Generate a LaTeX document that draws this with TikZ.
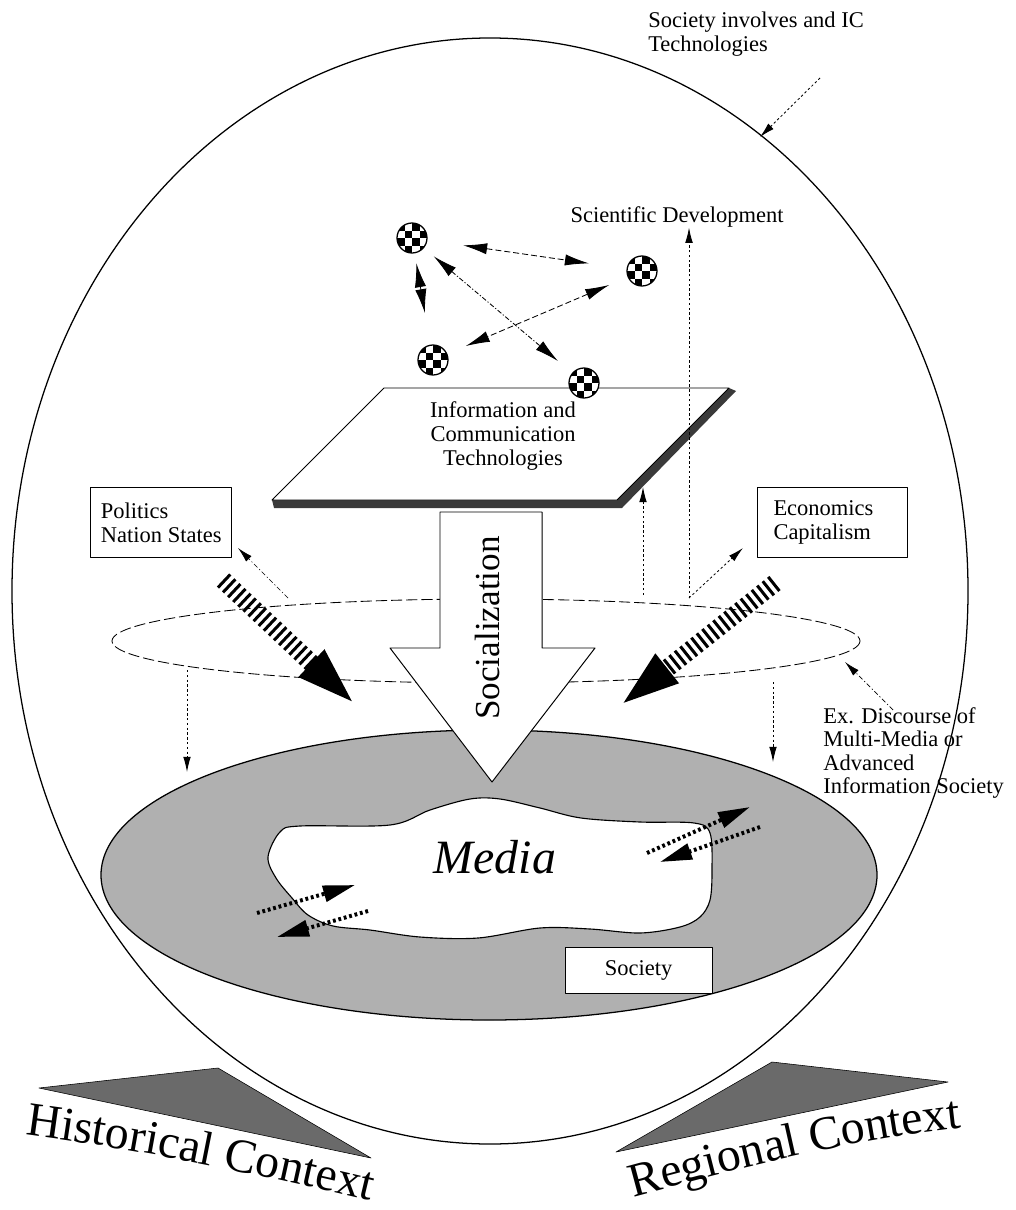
\documentclass[tikz,border=0pt]{standalone}
\usepackage{fontspec}
\setmainfont{Liberation Serif}
\usetikzlibrary{arrows.meta,decorations.text}
\definecolor{socfill}{HTML}{B0B0B0}
\definecolor{trifill}{HTML}{6A6A6A}
\definecolor{slabfill}{HTML}{3A3A3A}
\begin{document}
\begin{tikzpicture}[x=0.25mm,y=-0.25mm,line join=round,
  lbl/.style={font=\fontsize{16}{16.8}\selectfont, inner sep=0pt},
  box/.style={draw, fill=white, line width=0.7pt, align=left, font=\fontsize{16}{16.8}\selectfont, inner xsep=4mm, minimum height=17.5mm},
  ball/.style={circle, draw, line width=0.9pt, minimum size=7.5mm, inner sep=0pt, fill=white,
    path picture={\foreach \i/\j in {0/1,0/3,1/0,1/2,2/1,2/3,3/0,3/2}
      \fill[black] ([xshift=\i*1.875mm-3.75mm, yshift=\j*1.875mm-3.75mm]path picture bounding box.center) rectangle ++(1.875mm,1.875mm);}},
  bhead/.tip={Latex[length=6mm,width=2.8mm]},
  barr/.style={line width=0.6pt, bhead-bhead},
  dotarr/.style={line width=0.6pt, dash pattern=on 0.6mm off 0.6mm, -{Latex[length=3.8mm,width=1.9mm]}},
  dasharr/.style={line width=0.5pt, dash pattern=on 1.2mm off 0.6mm on 0.3mm off 0.6mm, -{Latex[length=3.8mm,width=1.9mm]}},
  stripe/.style={line width=4.5mm, dash pattern=on 0.75mm off 1mm, -{Triangle[length=16mm,width=8mm]}},
  marr/.style={line width=1mm, dash pattern=on 0.7mm off 0.7mm, -{Triangle[length=8mm,width=4mm]}}
]
\useasboundingbox (0,0) rectangle (1016,1210);

% big ellipse
\draw[line width=0.9pt] (490,591) ellipse [x radius=478, y radius=553];

% society ellipse and media blob
\draw[line width=0.9pt, fill=socfill] (489,875) ellipse [x radius=388, y radius=145];
\draw[line width=0.8pt, fill=white] plot[smooth cycle, tension=0.55] coordinates {
  (268,857) (280,832) (300,826) (390,825) (430,810) (470,799) (500,799) (540,808) (581,818)
  (640,822) (694,823) (710,833) (712,870) (710,900) (700,917) (680,927) (640,933) (590,929)
  (540,928) (478,938) (420,937) (370,930) (333,926) (308,915) (292,898) (276,878)};
\node[font=\itshape\fontsize{34}{34}\selectfont, inner sep=0pt] (media) at (495,857) {Media};
\node[draw, fill=white, line width=0.7pt, font=\fontsize{16}{16.8}\selectfont, minimum width=36.75mm, minimum height=11.5mm, inner sep=0pt] (society) at (638.5,970) {Society};

% media arrows
\coordinate (ma1) at (647,853); \coordinate (ma2) at (750,807);
\coordinate (ma3) at (760,827); \coordinate (ma4) at (660,862);
\coordinate (ma5) at (257,913); \coordinate (ma6) at (355,885);
\coordinate (ma7) at (368,911); \coordinate (ma8) at (277,937);
\draw[marr] (ma1) -- (ma2);
\draw[marr] (ma3) -- (ma4);
\draw[marr] (ma5) -- (ma6);
\draw[marr] (ma7) -- (ma8);

% discourse ellipse
\draw[line width=0.6pt, dash pattern=on 2.8mm off 1mm] (486,641) ellipse [x radius=374, y radius=42];
\coordinate (e1) at (689,598);
\coordinate (e2) at (643,595);
\coordinate (e3) at (288,598);
\coordinate (e4) at (187,670);
\coordinate (e5) at (773,682);
\coordinate (e6) at (845,662);

% socialization arrow
\draw[line width=0.7pt, fill=white] (440,512) -- (542,512) -- (542,648) -- (595,648) -- (492,782) -- (390,648) -- (440,648) -- cycle;
\node[rotate=90, font=\fontsize{25}{25}\selectfont, inner sep=0pt] (soc) at (487,628) {Socialization};

% striped arrows
\coordinate (pl1) at (223,580); \coordinate (pl2) at (358,707);
\coordinate (ec1) at (775,583); \coordinate (ec2) at (617,708);
\draw[stripe] (pl1) -- (pl2);
\draw[stripe] (ec1) -- (ec2);

% slab
\fill[slabfill] (272,500) -- (617,500) -- (729,388) -- (736,391) -- (622,508) -- (274,508) -- cycle;
\draw[line width=0.7pt, fill=white] (384,388) -- (729,388) -- (617,500) -- (272,500) -- cycle;
\node[lbl, align=center] (ict) at (503,436) {Information and\\Communication\\Technologies};

% balls
\node[ball] (b1) at (412,238) {};
\node[ball] (b2) at (642,271) {};
\node[ball] (b3) at (433,360) {};
\node[ball] (b4) at (584,383) {};
\draw[barr, dash pattern=on 1.5mm off 0.75mm, shorten <=9mm, shorten >=9.5mm] (b1) -- (b2);
\draw[barr, shorten <=2.5mm, shorten >=8mm] (b1) -- (b3);
\draw[barr, dash pattern=on 1.2mm off 0.5mm on 0.3mm off 0.5mm, shorten <=3.2mm, shorten >=4.6mm] (b1) -- (b4);
\draw[barr, dash pattern=on 1.5mm off 0.75mm, shorten <=5mm, shorten >=5mm] (b2) -- (b3);

% labels and boxes
\node[lbl, anchor=north west, align=left] (sit) at (648,12) {Society involves and IC\\Technologies};
\coordinate (s1) at (820,78); \coordinate (s2) at (760,137);
\draw[dotarr] (s1) -- (s2);

\node[lbl] (sci) at (677,217) {Scientific Development};
\draw[dotarr] (e1) -- (e1 |- sci.south);
\draw[dotarr] (e2) -- (643,487);

\node[box, anchor=north east, inner xsep=2.5mm] (pol) at (232,487) {Politics\\Nation States};
\node[box, anchor=north west, text width=29.5mm] (econ) at (757,487) {Economics\\Capitalism};
\coordinate (p1) at (238,548);
\coordinate (p2) at (743,548);
\draw[dasharr] (e3) -- (p1);
\draw[dotarr] (e1) -- (p2);

\draw[dotarr] (e4) -- (187,772);
\draw[dotarr] (e5) -- (773,762);

\node[lbl, anchor=north west, align=left] (exd) at (823,707) {Ex. Discourse of\\Multi-Media or\\Advanced\\Information Society};
\draw[dasharr] (exd.north west) ++(70,3) coordinate (x1) (x1) -- (e6);

% context triangles
\draw[fill=trifill, line width=0.4pt] (39,1088) -- (218,1068) -- (371,1158) -- cycle;
\draw[fill=trifill, line width=0.4pt] (616,1152) -- (772,1062) -- (948,1082) -- cycle;
\path[decorate, decoration={text along path, text align=center,
  text={|\fontsize{34}{34}\selectfont|Historical Context}}]
  (0,1131) .. controls (130,1147) and (260,1174) .. (395,1207);
\path[decorate, decoration={text along path, text align=center,
  text={|\fontsize{34}{34}\selectfont|Regional Context}}]
  (608,1204) .. controls (740,1168) and (860,1136) .. (988,1125);
\end{tikzpicture}
\end{document}
